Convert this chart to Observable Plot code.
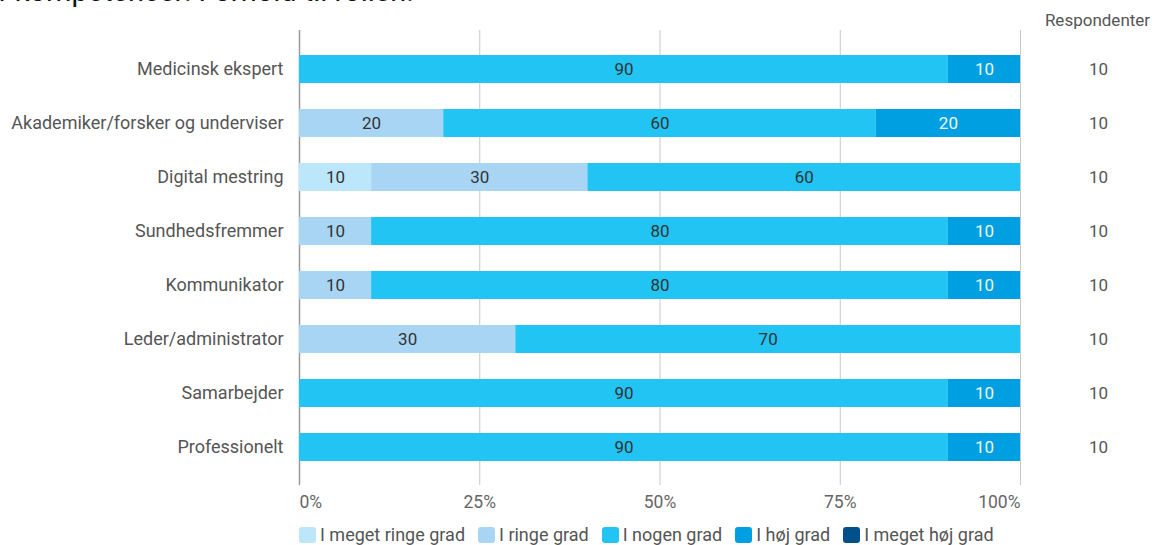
<!DOCTYPE html>
<html>
<head>
<meta charset="utf-8">
<script src="https://cdn.jsdelivr.net/npm/d3@7"></script>
<script src="https://cdn.jsdelivr.net/npm/@observablehq/plot@0.6"></script>
<style>
  html, body { margin: 0; padding: 0; background: #fff; overflow: hidden; }
  body { width: 1155px; height: 545px; position: relative; font-family: Roboto, sans-serif; }
  #title { position: absolute; left: -150px; top: -26px; font-size: 29px; line-height: 34px; color: #111; white-space: nowrap; }
  #chart { position: absolute; left: 0; top: 0; }
  #legend { position: absolute; left: 299px; top: 524px; display: flex; align-items: center; font-size: 18px; color: #555; white-space: nowrap; }
  .item { display: flex; align-items: center; margin-right: 13px; }
  .sw { width: 17px; height: 16px; border-radius: 3px; margin-right: 4px; }
</style>
</head>
<body>
<div id="title">Vurdering af kompetencer: Forhold til rollen.</div>
<div id="chart"></div>
<div id="legend"></div>
<script>
const categories = ["Medicinsk ekspert", "Akademiker/forsker og underviser", "Digital mestring", "Sundhedsfremmer", "Kommunikator", "Leder/administrator", "Samarbejder", "Professionelt"];
const levels = ["I meget ringe grad", "I ringe grad", "I nogen grad", "I høj grad", "I meget høj grad"];
const colors = ["#bce6f9", "#a9d5f4", "#21c4f3", "#009fe2", "#01508a"];
const megetRinge = [0, 0, 10, 0, 0, 0, 0, 0];
const ringe = [0, 20, 30, 10, 10, 30, 0, 0];
const nogen = [90, 60, 60, 80, 80, 70, 90, 90];
const hoej = [10, 20, 0, 10, 10, 0, 10, 10];
const megetHoej = [0, 0, 0, 0, 0, 0, 0, 0];
const respondents = [10, 10, 10, 10, 10, 10, 10, 10];
const xTicks = [0, 25, 50, 75, 100];

const series = [megetRinge, ringe, nogen, hoej, megetHoej];
const rows = categories.flatMap((c, i) => levels.map((l, j) => ({cat: c, level: l, value: series[j][i]}))).filter(d => d.value > 0);
const resp = categories.map((c, i) => ({cat: c, n: respondents[i]}));
const darkBg = new Set(["I høj grad", "I meget høj grad"]);

const stackOpts = {x: "value", y: "cat", z: "level", order: levels};

const chart = Plot.plot({
  width: 1155,
  height: 522,
  marginLeft: 299,
  marginRight: 135,
  marginTop: 30,
  marginBottom: 37,
  style: {fontFamily: "Roboto, sans-serif", fontSize: "17px", color: "#555", background: "transparent"},
  x: {domain: [0, 100], label: null},
  y: {domain: categories, paddingInner: 0.483, paddingOuter: 0.4435, label: null},
  color: {domain: levels, range: colors},
  marks: [
    Plot.gridX(xTicks.slice(1), {stroke: "#c8c8c8", strokeOpacity: 1}),
    Plot.ruleX([0], {stroke: "#9a9a9a", strokeWidth: 1.5}),
    Plot.barX(rows, Plot.stackX({...stackOpts, fill: "level"})),
    Plot.text(rows, Plot.stackX({...stackOpts, text: d => darkBg.has(d.level) ? "" : String(d.value), fill: "#333", fontSize: 17})),
    Plot.text(rows, Plot.stackX({...stackOpts, text: d => darkBg.has(d.level) ? String(d.value) : "", fill: "#eef8fd", fontSize: 17})),
    Plot.axisX([xTicks[0]], {tickSize: 0, tickPadding: 10, tickFormat: d => d + "%", textAnchor: "start", fontSize: 17.5, fill: "#666", label: null}),
    Plot.axisX(xTicks.slice(1, -1), {tickSize: 0, tickPadding: 10, tickFormat: d => d + "%", fontSize: 17.5, fill: "#666", label: null}),
    Plot.axisX([xTicks[4]], {tickSize: 0, tickPadding: 10, tickFormat: d => d + "%", textAnchor: "end", fontSize: 17.5, fill: "#666", label: null}),
    Plot.axisY({tickSize: 0, tickPadding: 16, fontSize: 18, fill: "#555", label: null}),
    Plot.text(resp, {y: "cat", text: d => String(d.n), frameAnchor: "right", dx: 78, textAnchor: "middle", fontSize: 17, fill: "#555"}),
    Plot.text(["Respondenter"], {frameAnchor: "top-right", dx: 77, dy: -17, textAnchor: "middle", fontSize: 17, fill: "#555"})
  ]
});
document.getElementById("chart").appendChild(chart);

const legend = document.getElementById("legend");
levels.forEach((l, i) => {
  const item = document.createElement("div");
  item.className = "item";
  const sw = document.createElement("span");
  sw.className = "sw";
  sw.style.background = colors[i];
  const t = document.createElement("span");
  t.textContent = l;
  item.appendChild(sw);
  item.appendChild(t);
  legend.appendChild(item);
});
</script>
</body>
</html>
